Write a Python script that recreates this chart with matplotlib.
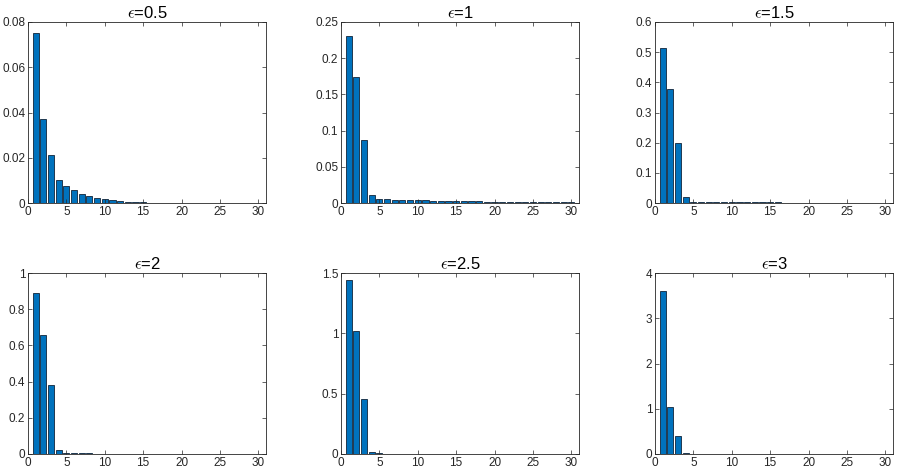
import numpy as np
import matplotlib
matplotlib.use("Agg")
import matplotlib.pyplot as plt

plt.rcParams.update({"font.family": ["Liberation Sans", "DejaVu Sans"],
                     "font.size": 8, "axes.linewidth": 0.6,
                     "axes.edgecolor": "#262626", "xtick.color": "#262626",
                     "ytick.color": "#262626", "mathtext.fontset": "cm"})

K = np.arange(1, 31)
EPS = ["0.5", "1", "1.5", "2", "2.5", "3"]

# values, one list per panel
V05 = [0.075, 0.037, 0.021, 0.0103, 0.0075, 0.0057, 0.0041, 0.0031, 0.0022,
       0.0016, 0.0012, 0.0008, 0.0006, 0.0004, 0.0003, 0.0002, 0.00015,
       0.0001, 0.00008, 0.00006, 0.00005, 0.00004, 0.00003, 0.00002,
       0.00002, 0.00001, 0.00001, 0.00001, 0.00001, 0.00001]
V10 = [0.23, 0.174, 0.087, 0.011, 0.0055, 0.005, 0.0045, 0.0042, 0.004,
       0.0038, 0.0036, 0.0034, 0.0032, 0.003, 0.0028, 0.0026, 0.0024,
       0.0022, 0.002, 0.0019, 0.0017, 0.0016, 0.0014, 0.0013, 0.0012,
       0.0011, 0.001, 0.0009, 0.0008, 0.0007]
V15 = [0.515, 0.377, 0.199, 0.02, 0.004, 0.0035, 0.0032, 0.003, 0.0028,
       0.0026, 0.0024, 0.0022, 0.002, 0.0019, 0.0018, 0.0017, 0.0016,
       0.0015, 0.0014, 0.0013, 0.0012, 0.0011, 0.001, 0.0009, 0.0008,
       0.0007, 0.0006, 0.0005, 0.0004, 0.0003]
V20 = [0.89, 0.655, 0.38, 0.02, 0.004, 0.0035, 0.003, 0.0028, 0.0026,
       0.0024, 0.0022, 0.002, 0.0019, 0.0018, 0.0017, 0.0016, 0.0015,
       0.0014, 0.0013, 0.0012, 0.0011, 0.001, 0.0009, 0.0008, 0.0007,
       0.0006, 0.0005, 0.0004, 0.0003, 0.0002]
V25 = [1.44, 1.02, 0.455, 0.02, 0.005, 0.004, 0.0035, 0.003, 0.0028,
       0.0026, 0.0024, 0.0022, 0.002, 0.0019, 0.0018, 0.0017, 0.0016,
       0.0015, 0.0014, 0.0013, 0.0012, 0.0011, 0.001, 0.0009, 0.0008,
       0.0007, 0.0006, 0.0005, 0.0004, 0.0003]
V30 = [3.6, 1.04, 0.4, 0.02, 0.006, 0.005, 0.0045, 0.004, 0.0035, 0.003,
       0.0028, 0.0026, 0.0024, 0.0022, 0.002, 0.0018, 0.0016, 0.0014,
       0.0012, 0.001, 0.0009, 0.0008, 0.0007, 0.0006, 0.0005, 0.0004,
       0.0003, 0.0003, 0.0002, 0.0002]
VALS = [V05, V10, V15, V20, V25, V30]

YTICKS = [[0, 0.02, 0.04, 0.06, 0.08], [0, 0.05, 0.1, 0.15, 0.2, 0.25],
          [0, 0.1, 0.2, 0.3, 0.4, 0.5, 0.6], [0, 0.2, 0.4, 0.6, 0.8, 1],
          [0, 0.5, 1, 1.5], [0, 1, 2, 3, 4]]
YLAB = [["0", "0.02", "0.04", "0.06", "0.08"],
        ["0", "0.05", "0.1", "0.15", "0.2", "0.25"],
        ["0", "0.1", "0.2", "0.3", "0.4", "0.5", "0.6"],
        ["0", "0.2", "0.4", "0.6", "0.8", "1"],
        ["0", "0.5", "1", "1.5"], ["0", "1", "2", "3", "4"]]

W, H = 897, 474
fig = plt.figure(figsize=(W / 100, H / 100), dpi=100)
lefts = [28, 341, 655]
tops = [22, 273]
aw, ah = 238, 181

for i in range(6):
    r, c = divmod(i, 3)
    x0, y0 = lefts[c], tops[r]
    ax = fig.add_axes([x0 / W, 1 - (y0 + ah) / H, aw / W, ah / H])
    ax.bar(K, VALS[i], width=0.8, color="#0072BD", edgecolor="#10243a",
           linewidth=0.6)
    ax.set_xlim(0, 31)
    ax.set_ylim(YTICKS[i][0], YTICKS[i][-1])
    ax.set_xticks(range(0, 31, 5))
    ax.set_yticks(YTICKS[i])
    ax.set_yticklabels(YLAB[i])
    ax.tick_params(direction="in", top=True, right=True, length=3,
                   width=0.5, labelsize=8.5, pad=2)
    ax.set_title(r"$\epsilon$=" + EPS[i], fontsize=12, pad=3)

fig.savefig("out.png", dpi=100)
